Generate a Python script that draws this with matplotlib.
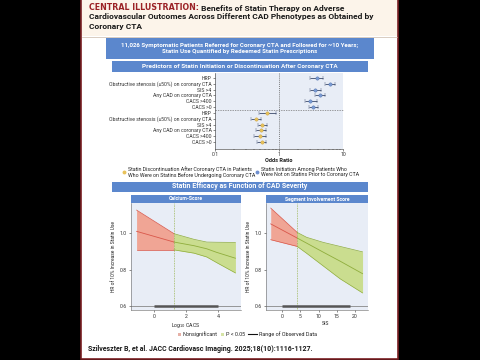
import matplotlib
matplotlib.use("Agg")
import matplotlib.pyplot as plt
from matplotlib.patches import Rectangle
from matplotlib.lines import Line2D
import numpy as np

plt.rcParams['font.family'] = ['Roboto', 'DejaVu Sans']

# ---------------- data ----------------
forest_labels = ["HRP", "Obstructive stenosis (\u226550%) on coronary CTA", "SIS >4",
                 "Any CAD on coronary CTA", "CACS >400", "CACS >0"]
init_or = [3.9, 6.3, 3.7, 4.3, 3.1, 3.4]
init_lo = [3.05, 5.2, 3.1, 3.6, 2.55, 2.9]
init_hi = [4.9, 7.5, 4.5, 5.2, 3.9, 4.0]
disc_or = [0.66, 0.43, 0.55, 0.52, 0.51, 0.54]
disc_lo = [0.49, 0.36, 0.47, 0.43, 0.41, 0.46]
disc_hi = [0.90, 0.53, 0.66, 0.62, 0.63, 0.63]

cacs_x = [-1.1, 1.25, 2.5, 3.3, 3.9, 5.1]
cacs_mid = [1.011, 0.952, 0.932, 0.915, 0.896, 0.863]
cacs_up = [1.128, 0.998, 0.967, 0.952, 0.951, 0.950]
cacs_lo = [0.909, 0.909, 0.891, 0.870, 0.840, 0.782]
cacs_cut = 1.25
cacs_range = [0, 4]

sis_x = [-3.2, 4.1, 6.7, 11.3, 15.9, 22.1]
sis_mid = [1.052, 0.974, 0.946, 0.896, 0.847, 0.778]
sis_up = [1.139, 1.005, 0.978, 0.950, 0.928, 0.898]
sis_lo = [0.965, 0.928, 0.890, 0.820, 0.750, 0.672]
sis_cut = 4.1
sis_range = [0, 18.6]

W, H = 480, 360
fig = plt.figure(figsize=(4.8, 3.6), dpi=100, facecolor='black')

def fx(p): return p / W
def fy(p): return 1 - p / H

def rect(x0, y0, x1, y1, fc, ec='none', lw=0, z=-2):
    fig.patches.append(Rectangle((fx(x0), fy(y1)), (x1 - x0) / W, (y1 - y0) / H,
                                 transform=fig.transFigure, facecolor=fc,
                                 edgecolor=ec, lw=lw, zorder=z))

def axes_px(x0, y0, x1, y1):
    return fig.add_axes([fx(x0), fy(y1), (x1 - x0) / W, (y1 - y0) / H])

BLUE = '#5b87cd'
BG = '#e8edf6'
DARKRED = '#9b2226'

# panel
rect(81, -2, 398, 359, 'white', ec='#7a1f22', lw=1.2, z=-3)
rect(82, 0, 397, 36, '#fcf4ea')
fig.lines.append(Line2D([fx(82), fx(397)], [fy(36.5), fy(36.5)], transform=fig.transFigure,
                        color='#c9b8a8', lw=0.5, zorder=-1))

ax0 = fig.add_axes([0, 0, 1, 1])
ax0.set_axis_off()
ax0.set_xlim(0, W); ax0.set_ylim(H, 0)

tfs = 6.05
t1 = ax0.text(89, 11.5, "CENTRAL ILLUSTRATION:", color=DARKRED, fontsize=5.7,
              fontweight='bold', va='bottom', ha='left', family='DejaVu Sans')
ax0.annotate(" Benefits of Statin Therapy on Adverse", xy=(1, 0), xycoords=t1,
             va='bottom', ha='left', fontsize=tfs, fontweight='bold', color='#1a1a1a')
ax0.text(89, 20.5, "Cardiovascular Outcomes Across Different CAD Phenotypes as Obtained by",
         fontsize=tfs, fontweight='bold', va='bottom', ha='left', color='#1a1a1a')
ax0.text(89, 29.5, "Coronary CTA", fontsize=tfs, fontweight='bold', va='bottom',
         ha='left', color='#1a1a1a')

# blue boxes
rect(106, 38, 374, 59, BLUE)
ax0.text(240, 48.5, "11,026 Symptomatic Patients Referred for Coronary CTA and Followed for ~10 Years;\n"
         "Statin Use Quantified by Redeemed Statin Prescriptions", ha='center', va='center',
         color='white', fontsize=4.4, fontweight='bold', linespacing=1.3)
rect(112, 61, 368, 71.5, BLUE)
ax0.text(240, 66.3, "Predictors of Statin Initiation or Discontinuation After Coronary CTA",
         ha='center', va='center', color='white', fontsize=4.6, fontweight='bold')
rect(112, 181.5, 368, 191.5, BLUE)
ax0.text(240, 186.5, "Statin Efficacy as Function of CAD Severity", ha='center', va='center',
         color='white', fontsize=5.0, fontweight='bold')
rect(131, 195, 241, 203, BLUE)
ax0.text(186, 199, "Calcium-Score", ha='center', va='center', color='white',
         fontsize=3.7, fontweight='bold')
rect(266, 195, 368, 203, BLUE)
ax0.text(317, 199, "Segment Involvement Score", ha='center', va='center', color='white',
         fontsize=3.7, fontweight='bold')

# ---------------- forest plot ----------------
axf = axes_px(215, 73, 343, 149)
axf.set_facecolor(BG)
n = len(forest_labels)
rows_init = np.arange(n)
rows_disc = np.arange(n) + n
axf.errorbar(init_or, rows_init, xerr=[np.array(init_or) - np.array(init_lo),
                                       np.array(init_hi) - np.array(init_or)],
             fmt='o', ms=2.4, mfc='#7a9bd4', mec='#4e6fa8', mew=0.3, ecolor='#3b4a6b',
             elinewidth=0.6, capsize=1.3, capthick=0.6)
axf.errorbar(disc_or, rows_disc, xerr=[np.array(disc_or) - np.array(disc_lo),
                                       np.array(disc_hi) - np.array(disc_or)],
             fmt='o', ms=2.4, mfc='#e8c25a', mec='#c9a03c', mew=0.3, ecolor='#3b4a6b',
             elinewidth=0.6, capsize=1.3, capthick=0.6)
axf.set_xscale('log')
axf.set_xlim(0.1, 10)
axf.set_ylim(2 * n - 1 + 1.2, -0.86)
axf.axvline(1, color='#555555', lw=0.5, ls=(0, (1.5, 1.5)))
axf.axhline(n - 0.5, color='#777777', lw=0.5, ls=(0, (2, 1.5)), clip_on=False)
axf.set_yticks(list(rows_init) + list(rows_disc))
axf.set_yticklabels(forest_labels + forest_labels)
axf.set_xticks([0.1, 1, 10])
axf.set_xticklabels(["0.1", "1", "10"])
axf.tick_params(axis='both', labelsize=3.7, length=1.5, width=0.4, pad=1, colors='#333333')
axf.tick_params(axis='x', which='minor', length=1, width=0.3)
for s in ['top', 'right']:
    axf.spines[s].set_visible(False)
for s in ['left', 'bottom']:
    axf.spines[s].set_linewidth(0.4)
    axf.spines[s].set_color('#333333')

ax0.text(279, 161, "Odds Ratio", ha='center', va='center', fontsize=4.1,
         fontweight='bold', color='#222222')
ax0.plot([124], [172], 'o', ms=1.8, color='#e8c25a')
ax0.text(127.5, 172, "Statin Discontinuation After Coronary CTA in Patients\n"
         "Who Were on Statins Before Undergoing Coronary CTA", ha='left', va='center',
         fontsize=3.75, color='#222222', linespacing=1.2)
ax0.plot([257.3], [172], 'o', ms=1.8, color='#6f8fcf')
ax0.text(261, 172, "Statin Initiation Among Patients Who\n"
         "Were Not on Statins Prior to Coronary CTA", ha='left', va='center',
         fontsize=3.75, color='#222222', linespacing=1.2)

# ---------------- spline panels ----------------
RED_F, RED_L = '#f0a595', '#d9574a'
GRN_F, GRN_L = '#cadd8f', '#8fad3c'

def spline_panel(ax, xs, mid, up, lo, cut, rng, xlim, xticks, xlabel, lx):
    ax.set_facecolor(BG)
    xs = np.array(xs); mid = np.array(mid); up = np.array(up); lo = np.array(lo)
    left = xs <= cut
    right = xs >= cut
    ax.fill_between(xs[left], lo[left], up[left], color=RED_F, lw=0)
    ax.plot(xs[left], mid[left], color=RED_L, lw=0.6)
    ax.plot(xs[left], up[left], color=RED_L, lw=0.5)
    ax.plot(xs[left], lo[left], color=RED_L, lw=0.5)
    ax.fill_between(xs[right], lo[right], up[right], color=GRN_F, lw=0)
    ax.plot(xs[right], mid[right], color=GRN_L, lw=0.6)
    ax.plot(xs[right], up[right], color=GRN_L, lw=0.5)
    ax.plot(xs[right], lo[right], color=GRN_L, lw=0.5)
    ax.axvline(cut, color='#8fad3c', lw=0.5, ls=(0, (1.2, 1.2)))
    ax.axhline(0.6, color='#888888', lw=0.6)
    ax.plot(rng, [0.6, 0.6], color='#555555', lw=1.8, solid_capstyle='butt')
    ax.set_xlim(*xlim)
    ax.set_ylim(0.578, 1.167)
    ax.set_yticks([0.6, 0.8, 1.0])
    ax.set_yticklabels(["0.6", "0.8", "1.0"])
    ax.set_xticks(xticks)
    ax.tick_params(axis='both', labelsize=3.7, length=1.5, width=0.4, pad=1.5, colors='#333333')
    for s in ['top', 'right']:
        ax.spines[s].set_visible(False)
    for s in ['left', 'bottom']:
        ax.spines[s].set_linewidth(0.4)
        ax.spines[s].set_color('#666666')
    ax.set_ylabel("HR of 10% Increase in Statin Use", fontsize=3.5, color='#222222', labelpad=3)
    ax.set_xlabel(xlabel, fontsize=3.7, color='#222222', labelpad=1.5)
    ax.xaxis.set_label_coords(lx, -0.1)

axl = axes_px(131, 203, 241, 310)
spline_panel(axl, cacs_x, cacs_mid, cacs_up, cacs_lo, cacs_cut, cacs_range,
             (-1.45, 5.45), [0, 2, 4], r"Log$_{10}$ CACS", 0.5)
axr = axes_px(266, 203, 368, 310)
spline_panel(axr, sis_x, sis_mid, sis_up, sis_lo, sis_cut, sis_range,
             (-4.5, 23.6), [0, 5, 10, 15, 20], "SIS", 0.58)

# bottom legend
ly = 334
ax0.add_patch(Rectangle((177.8, ly - 1.5), 3, 3, facecolor='#e6b0a6', edgecolor='none'))
ax0.text(182.7, ly, "Nonsignificant", ha='left', va='center', fontsize=3.9, color='#222222')
ax0.add_patch(Rectangle((220.5, ly - 1.5), 3, 3, facecolor='#d6e4a6', edgecolor='none'))
ax0.text(225.7, ly, "P < 0.05", ha='left', va='center', fontsize=3.9, color='#222222')
ax0.plot([248, 257], [ly, ly], color='#111111', lw=0.8)
ax0.text(259, ly, "Range of Observed Data", ha='left', va='center', fontsize=3.9,
         color='#222222')

ax0.text(88, 349, "Szilveszter B, et al. JACC Cardiovasc Imaging. 2025;18(10):1116-1127.",
         ha='left', va='center', fontsize=5.0, fontweight='bold', color='#1a1a1a')

fig.savefig("out.png", dpi=100, facecolor='black')
